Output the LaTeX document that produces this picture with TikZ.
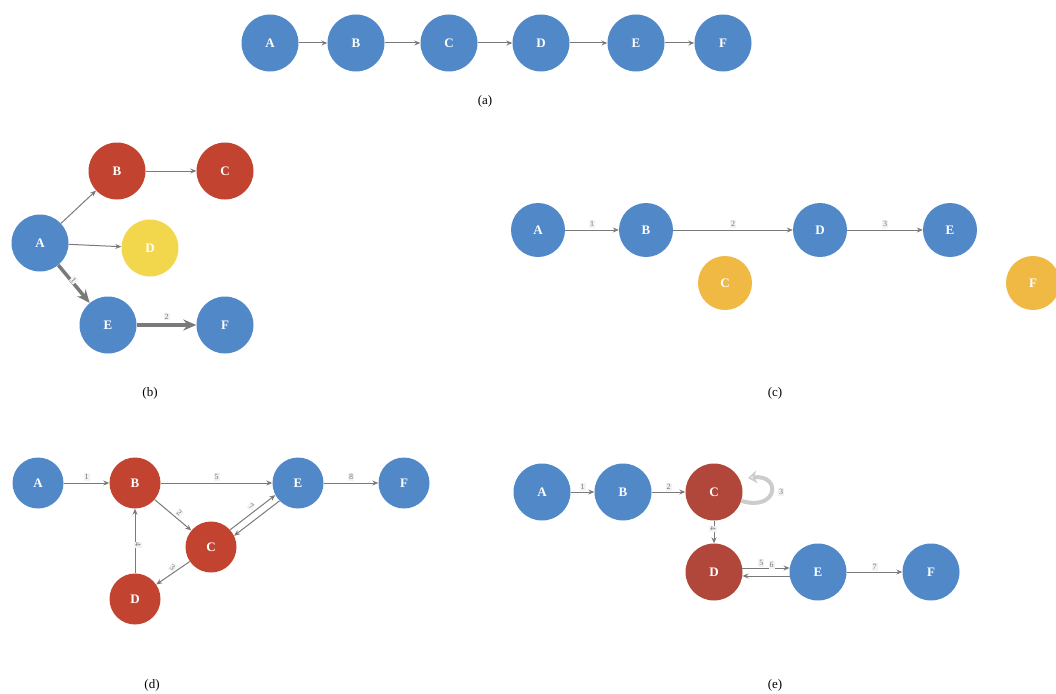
\documentclass[tikz,border=0pt]{standalone}
\usepackage{fontspec}
\setmainfont{Liberation Serif}
\usetikzlibrary{arrows.meta,calc}
\definecolor{nblue}{HTML}{5088C8}
\definecolor{nred}{HTML}{C2432F}
\definecolor{ered}{HTML}{B0473A}
\definecolor{nyel}{HTML}{F2D64B}
\definecolor{norg}{HTML}{F0B944}
\definecolor{egray}{HTML}{7A7A7A}
\begin{document}
\begin{tikzpicture}[x=1pt,y=-1pt,
 vert/.style={circle,minimum size=57pt,inner sep=0pt,text=white,font=\fontsize{13}{13}\selectfont\bfseries},
 vblue/.style={vert,fill=nblue},
 vred/.style={vert,fill=nred},
 vered/.style={vert,fill=ered},
 vyel/.style={vert,fill=nyel},
 vorg/.style={vert,fill=norg},
 small/.style={minimum size=51pt},
 mid/.style={minimum size=54pt},
 arr/.style={-{Stealth[length=6pt,width=5pt]},draw=egray,line width=1pt},
 thickarr/.style={-{Stealth[length=13pt,width=11pt]},draw=egray,line width=3.5pt},
 elab/.style={font=\fontsize{8}{8}\selectfont,text=gray!90!black,fill=gray!10,inner sep=1pt},
 panellab/.style={font=\fontsize{13}{15}\selectfont},
 selfloop/.style={-{Stealth[length=9pt,width=13pt,open]},draw=gray!40,line width=4pt}
]
\useasboundingbox (0,0) rectangle (1056,693);
% (a)
\foreach \n/\x in {A/270,B/356,C/449,D/541,E/636,F/723}
  \node[vblue] (a\n) at (\x,43) {\n};
\foreach \s/\t in {A/B,B/C,C/D,D/E,E/F}
  \draw[arr] (a\s) -- (a\t);
\node[panellab] (la) at (485,101) {(a)};
% (b)
\node[vblue] (bA) at (40,243) {A};
\node[vred] (bB) at (117,171) {B};
\node[vred] (bC) at (225,171) {C};
\node[vyel] (bD) at (150,248) {D};
\node[vblue] (bE) at (108,325) {E};
\node[vblue] (bF) at (225,325) {F};
\draw[arr] (bA) -- (bB);
\draw[arr] (bB) -- (bC);
\draw[arr] (bA) -- (bD);
\draw[thickarr] (bA) -- node[elab,pos=0.3,right=3pt,rotate=-50]{1} (bE);
\draw[thickarr] (bE) -- node[elab,above=3pt]{2} (bF);
\node[panellab] (lb) at (150,393) {(b)};
% (c)
\node[vblue,mid] (cA) at (538,230) {A};
\node[vblue,mid] (cB) at (646,230) {B};
\node[vblue,mid] (cD) at (820,230) {D};
\node[vblue,mid] (cE) at (950,230) {E};
\node[vorg,mid] (cC) at (725,283) {C};
\node[vorg,mid] (cF) at (1033,283) {F};
\draw[arr] (cA) -- node[elab,above=2pt]{1} (cB);
\draw[arr] (cB) -- node[elab,above=2pt]{2} (cD);
\draw[arr] (cD) -- node[elab,above=2pt]{3} (cE);
\node[panellab] (lc) at (775,393) {(c)};
% (d)
\node[vblue,small] (dA) at (38,483) {A};
\node[vred,small] (dB) at (135,483) {B};
\node[vblue,small] (dE) at (298,483) {E};
\node[vblue,small] (dF) at (404,483) {F};
\node[vred,small] (dC) at (211,547) {C};
\node[vred,small] (dD) at (135,599) {D};
\draw[arr] (dA) -- node[elab,above=2pt]{1} (dB);
\draw[arr] (dB) -- node[elab,above=2pt]{5} (dE);
\draw[arr] (dE) -- node[elab,above=2pt]{8} (dF);
\draw[arr] (dB) -- node[elab,above right=1pt,rotate=-40]{2} (dC);
\draw[arr] (dC.42) -- node[elab,above left=1pt,rotate=-35]{7} (dE.208);
\draw[arr] (dE.224) -- (dC.26);
\draw[arr] (dC) -- node[elab,above left=0pt,rotate=-35]{3} (dD);
\draw[arr] (dD) -- node[elab,right=3pt,rotate=-90]{4} (dB);
\node[panellab] (ld) at (152,685) {(d)};
% (e)
\node[vblue] (eA) at (542,492) {A};
\node[vblue] (eB) at (623,492) {B};
\node[vered] (eC) at (714,492) {C};
\node[vered] (eD) at (714,572) {D};
\node[vblue] (eE) at (818,572) {E};
\node[vblue] (eF) at (931,572) {F};
\draw[arr] (eA) -- node[elab,above=1pt]{1} (eB);
\draw[arr] (eB) -- node[elab,above=1pt]{2} (eC);
\draw[selfloop] (eC.-18) .. controls (778,512) and (782,474) .. (748,478);
\node[elab] (l3) at (781,492) {3};
\draw[arr] (eC) -- node[elab,left=1pt,rotate=-90]{4} (eD);
\draw[arr] (eD.8) -- node[elab,pos=0.4,above=1pt]{5} node[elab,pos=0.62,above=-1pt]{6} (eE.172);
\draw[arr] (eE.188) -- (eD.-8);
\draw[arr] (eE) -- node[elab,above=1pt]{7} (eF);
\node[panellab] (le) at (775,685) {(e)};
\end{tikzpicture}
\end{document}
